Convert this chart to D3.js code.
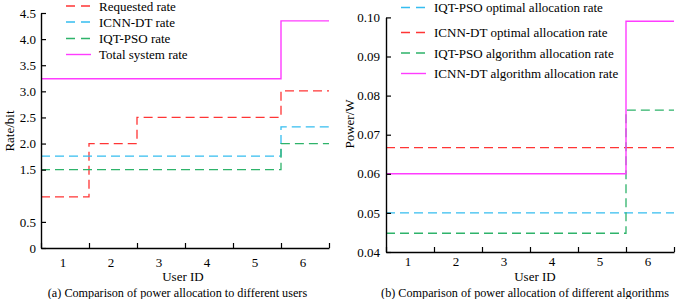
<!DOCTYPE html>
<html>
<head>
<meta charset="utf-8">
<script src="https://cdn.jsdelivr.net/npm/d3@7"></script>
<style>
    body { margin: 0; background: #fff; }
    svg text { font-family: 'Liberation Serif', 'Times New Roman', Times, serif !important; fill: #000; }
</style>
</head>
<body>
<div id="canvas"></div>
<script>
"use strict"

let svgWidth = 685
let svgHeight = 299

/* data */
let users = [1, 2, 3, 4, 5, 6]

// (a) rates per user
let requestedRate = [0.98, 2.0, 2.5, 2.5, 2.5, 3.01]
let icnnRate = [1.76, 1.76, 1.76, 1.76, 1.76, 2.32]
let iqtRate = [1.5, 1.5, 1.5, 1.5, 1.5, 2.0]
let totalRate = [3.24, 3.24, 3.24, 3.24, 3.24, 4.35]
let rateTicks = [0, 0.5, 1.5, 2.0, 2.5, 3.0, 3.5, 4.0, 4.5]

// (b) power per user
let iqtOptimal = [0.05, 0.05, 0.05, 0.05, 0.05, 0.05]
let icnnOptimal = [0.0667, 0.0667, 0.0667, 0.0667, 0.0667, 0.0667]
let iqtAlgorithm = [0.0448, 0.0448, 0.0448, 0.0448, 0.0448, 0.0763]
let icnnAlgorithm = [0.06, 0.06, 0.06, 0.06, 0.06, 0.099]
let powerTicks = [0.04, 0.05, 0.06, 0.07, 0.08, 0.09, 0.10]

let red = "#ff3535"
let blue = "#35bdf0"
let green = "#2eb36a"
let magenta = "#ff3cff"

let serif = "'Liberation Serif', 'Times New Roman', Times, serif"

let svg = d3.select("#canvas")
    .append("svg")
    .attr("width", svgWidth)
    .attr("height", svgHeight)
    .style("font-family", serif)

svg.append("rect")
    .attr("width", svgWidth)
    .attr("height", svgHeight)
    .attr("fill", "white")

drawPanel({
    left: 41, right: 329, top: 13, bottom: 248,
    domain: [0, 4.5],
    ticks: rateTicks,
    tickFormat: d => d === 0 ? "0" : d3.format(".1f")(d),
    labelPad: 5,
    userLabelY: 267,
    yLabel: "Rate/bit", yLabelX: 9, yLabelY: 131,
    xTitleX: 183, xTitleY: 281,
    caption: "(a) Comparison of power allocation to different users", captionX: 177.5,
    series: [
        { name: "Requested rate", values: requestedRate, color: red, dashed: true },
        { name: "ICNN-DT rate", values: icnnRate, color: blue, dashed: true },
        { name: "IQT-PSO rate", values: iqtRate, color: green, dashed: true },
        { name: "Total system rate", values: totalRate, color: magenta, dashed: false }
    ],
    legendX: 66, legendRows: [6, 22, 38.5, 54.5]
})

drawPanel({
    left: 386, right: 674, top: 17.4, bottom: 252,
    domain: [0.04, 0.10],
    ticks: powerTicks,
    tickFormat: d3.format(".2f"),
    labelPad: 6,
    userLabelY: 266,
    yLabel: "Power/W", yLabelX: 349, yLabelY: 124,
    xTitleX: 535, xTitleY: 281,
    caption: "(b) Comparison of power allocation of different algorithms", captionX: 525,
    series: [
        { name: "IQT-PSO optimal allocation rate", values: iqtOptimal, color: blue, dashed: true },
        { name: "ICNN-DT optimal allocation rate", values: icnnOptimal, color: red, dashed: true },
        { name: "IQT-PSO algorithm allocation rate", values: iqtAlgorithm, color: green, dashed: true },
        { name: "ICNN-DT algorithm allocation rate", values: icnnAlgorithm, color: magenta, dashed: false }
    ],
    legendX: 401, legendRows: [7.5, 32.5, 53, 73.5]
})

function drawPanel(p) {

    let xScale = d3.scaleLinear()
        .domain([0.5, 6.5]) // user bands, edges between ids
        .range([p.left, p.right])

    let yScale = d3.scaleLinear()
        .domain(p.domain)
        .range([p.bottom, p.top])

    let panel = svg.append("g")

    /* step lines */
    let line = d3.line()
        .x(d => xScale(d.x))
        .y(d => yScale(d.y))
        .curve(d3.curveStepAfter)

    p.series.forEach(function (s) {
        let points = users.map((u, i) => ({ x: u - 0.5, y: s.values[i] }))
        points.push({ x: 6.5, y: s.values[s.values.length - 1] })
        panel.append("path")
            .datum(points)
            .attr("d", line)
            .attr("fill", "none")
            .attr("stroke", s.color)
            .attr("stroke-width", s.dashed ? 1.3 : 1.4)
            .attr("stroke-dasharray", s.dashed ? "9,5" : null)
    })

    /* Y axis, ticks pointing inside */
    let yAxis = panel.append("g")
        .attr("transform", `translate(${p.left},0)`)
        .call(d3.axisLeft(yScale)
            .tickValues(p.ticks)
            .tickFormat(p.tickFormat)
            .tickSizeInner(-5)
            .tickSizeOuter(0)
            .tickPadding(p.labelPad))

    /* X axis: ticks on band edges, labels in the middle */
    let xAxis = panel.append("g")
        .attr("transform", `translate(0,${p.bottom})`)
        .call(d3.axisBottom(xScale)
            .tickValues([0.5, 1.5, 2.5, 3.5, 4.5, 5.5, 6.5])
            .tickFormat("")
            .tickSizeInner(-5)
            .tickSizeOuter(0))

    ;[yAxis, xAxis].forEach(function (a) {
        a.attr("font-family", serif)
        a.select(".domain").attr("stroke", "#000").attr("stroke-width", 1.4)
        a.selectAll(".tick line").attr("stroke", "#000").attr("stroke-width", 1.2)
        a.selectAll("text")
            .style("font-family", serif)
            .attr("font-size", 13)
            .attr("fill", "#000")
    })

    panel.selectAll("text.userLabel")
        .data(users)
        .enter()
        .append("text")
        .attr("class", "userLabel")
        .attr("x", d => xScale(d) - 2)
        .attr("y", p.userLabelY)
        .attr("text-anchor", "middle")
        .attr("font-size", 13)
        .text(d => d)

    /* axis titles and caption */
    panel.append("text")
        .attr("x", p.xTitleX)
        .attr("y", p.xTitleY)
        .attr("text-anchor", "middle")
        .attr("font-size", 13)
        .text("User ID")

    panel.append("text")
        .attr("transform", `translate(${p.yLabelX},${p.yLabelY}) rotate(-90)`)
        .attr("dy", "0.35em")
        .attr("text-anchor", "middle")
        .attr("font-size", 13)
        .text(p.yLabel)

    panel.append("text")
        .attr("x", p.captionX)
        .attr("y", 297)
        .attr("text-anchor", "middle")
        .attr("font-size", 12.2)
        .text(p.caption)

    /* legend */
    let legend = panel.append("g")

    p.series.forEach(function (s, i) {
        let y = p.legendRows[i]
        legend.append("line")
            .attr("x1", p.legendX)
            .attr("x2", p.legendX + 25)
            .attr("y1", y)
            .attr("y2", y)
            .attr("stroke", s.color)
            .attr("stroke-width", 1.4)
            .attr("stroke-dasharray", s.dashed ? "9,6" : null)
        legend.append("text")
            .attr("x", p.legendX + 33)
            .attr("y", y)
            .attr("dy", "0.35em")
            .attr("font-size", 13)
            .text(s.name)
    })
}
</script>
</body>
</html>
